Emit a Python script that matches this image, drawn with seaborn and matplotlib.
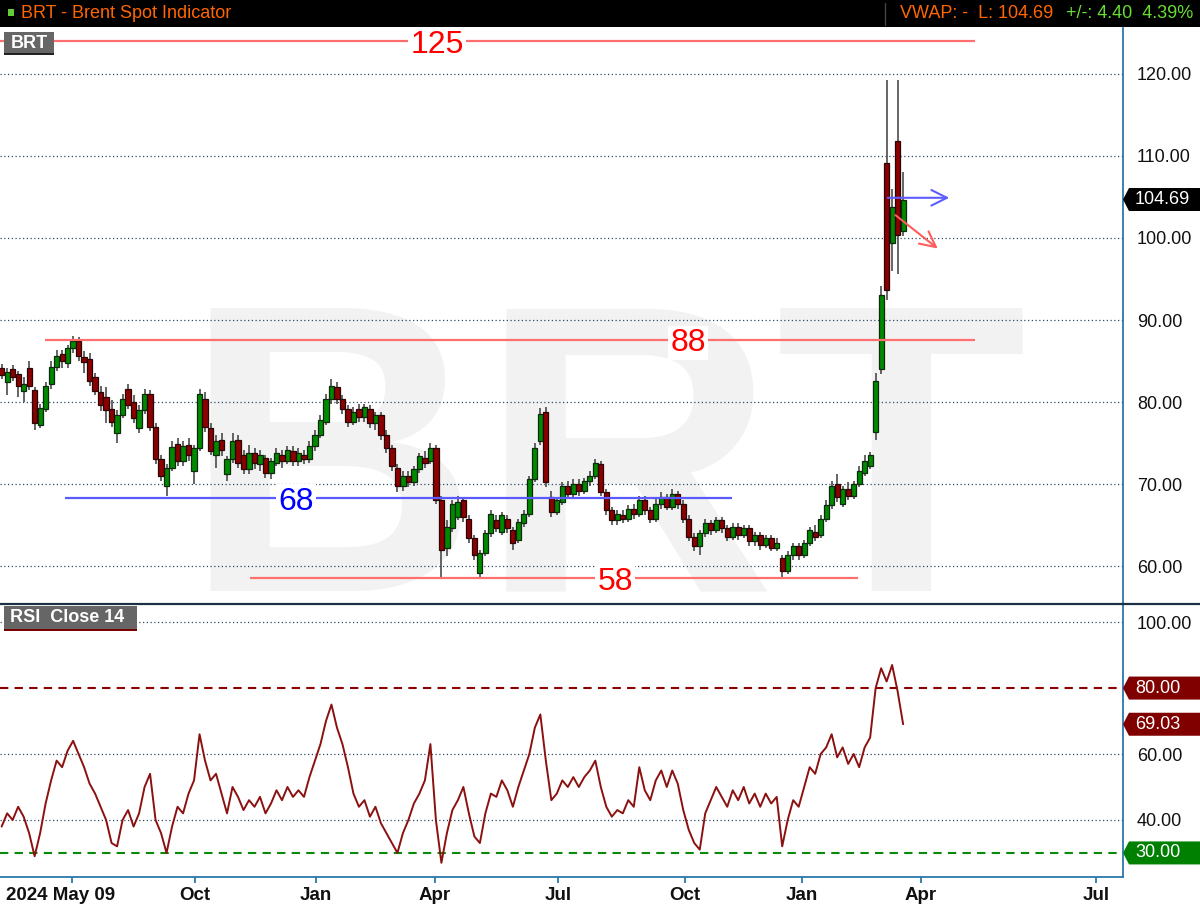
import numpy as np
import seaborn as sns
import matplotlib
matplotlib.use("Agg")
import matplotlib.pyplot as plt
from matplotlib.patches import Rectangle, Polygon
from matplotlib.transforms import ScaledTranslation

# ---------------- data ----------------
opens = [84.2, 82.5, 84.0, 83.4, 81.3, 84.2, 81.5, 77.2, 79.2, 82.2,
         84.3, 85.8, 84.8, 86.6, 87.4, 85.5, 85.3, 83.0, 81.2, 80.6,
         79.2, 76.2, 78.4, 81.6, 80.0, 76.8, 79.0, 81.0, 77.0, 73.0,
         69.8, 72.0, 74.9, 72.8, 74.8, 71.6, 74.4, 80.4, 76.8, 73.6,
         75.4, 71.2, 73.0, 75.4, 73.6, 71.8, 73.8, 72.4, 73.2, 71.4,
         72.6, 73.6, 72.8, 74.0, 72.8, 73.6, 73.0, 74.6, 76.0, 77.6,
         80.4, 81.8, 80.4, 79.2, 77.6, 79.2, 78.2, 79.2, 77.4, 78.4,
         76.0, 74.4, 72.0, 69.8, 71.0, 70.2, 71.8, 73.2, 72.8, 74.4,
         68.0, 62.2, 64.6, 66.0, 68.0, 65.8, 63.4, 59.2, 61.6, 64.0,
         65.6, 64.2, 65.8, 64.4, 63.2, 65.2, 66.4, 70.6, 75.2, 78.8,
         68.4, 66.6, 67.8, 69.8, 68.8, 70.0, 69.2, 70.4, 71.0, 72.4,
         69.0, 66.8, 65.6, 66.2, 65.8, 67.0, 66.4, 68.0, 66.8, 65.8,
         67.6, 68.4, 67.2, 68.8, 67.6, 65.8, 63.6, 62.4, 64.0, 65.2,
         64.4, 65.6, 64.6, 63.6, 64.8, 63.8, 64.6, 63.0, 63.8, 62.6,
         63.4, 62.2, 61.0, 59.4, 61.4, 62.4, 61.4, 62.8, 64.2, 63.8,
         65.8, 67.4, 70.0, 67.6, 69.4, 68.6, 70.0, 71.4, 72.2, 76.4,
         84.0, 109.2, 99.4, 111.8, 100.8]
highs = [84.6, 84.2, 84.5, 83.8, 83.0, 85.0, 81.8, 79.8, 82.5, 85.0,
         86.3, 86.4, 87.0, 88.0, 87.9, 86.2, 86.0, 83.5, 82.0, 81.8,
         80.2, 79.0, 81.0, 82.2, 80.8, 79.6, 81.6, 81.5, 77.4, 73.5,
         72.4, 75.2, 75.6, 75.3, 75.6, 74.8, 81.6, 81.2, 77.4, 76.0,
         76.2, 73.4, 76.2, 76.0, 74.2, 74.8, 74.4, 74.2, 73.6, 73.2,
         74.4, 74.2, 74.6, 74.6, 74.4, 74.2, 75.2, 76.6, 78.4, 81.0,
         82.8, 82.4, 80.8, 79.6, 79.4, 79.8, 79.8, 79.6, 78.8, 78.8,
         76.6, 74.8, 72.4, 71.6, 71.6, 72.2, 73.8, 74.0, 75.0, 74.8,
         68.6, 65.6, 68.0, 68.6, 68.4, 66.2, 63.8, 62.0, 64.4, 66.8,
         66.2, 66.6, 66.2, 64.8, 65.8, 66.8, 71.0, 75.0, 79.3, 79.4,
         69.2, 68.4, 70.2, 70.4, 70.6, 70.6, 70.8, 71.6, 73.0, 72.8,
         69.4, 67.2, 66.8, 66.8, 67.4, 67.6, 68.6, 68.6, 67.2, 68.2,
         69.0, 68.8, 69.4, 69.2, 68.0, 66.2, 64.0, 64.4, 65.8, 65.6,
         66.0, 66.0, 65.0, 65.2, 65.2, 65.0, 65.0, 64.2, 64.2, 63.8,
         63.8, 63.4, 61.4, 61.8, 62.8, 62.8, 63.2, 64.8, 65.0, 66.2,
         68.0, 70.4, 71.2, 69.8, 70.2, 70.4, 72.2, 73.6, 73.9, 83.6,
         94.2, 119.3, 106.0, 119.3, 108.0]
lows = [82.8, 80.8, 82.6, 80.6, 80.0, 81.5, 76.6, 76.8, 78.8, 81.6,
        83.8, 84.2, 84.2, 86.0, 85.0, 83.6, 82.0, 80.8, 78.9, 77.5,
        76.9, 75.0, 78.0, 79.2, 77.5, 76.2, 78.6, 76.5, 72.5, 70.4,
        68.6, 71.6, 72.2, 72.2, 72.8, 70.0, 74.0, 76.4, 73.6, 72.0,
        73.4, 70.4, 72.6, 72.0, 71.2, 71.2, 71.8, 71.6, 70.8, 70.6,
        72.2, 72.0, 72.4, 72.2, 72.2, 72.4, 72.6, 74.0, 75.6, 77.2,
        79.8, 79.8, 78.6, 77.0, 77.2, 77.6, 77.6, 76.8, 76.6, 75.4,
        73.8, 71.6, 69.0, 69.2, 69.6, 69.8, 71.4, 72.0, 72.4, 67.6,
        58.4, 61.2, 64.2, 65.6, 65.4, 62.8, 60.8, 58.6, 61.2, 63.6,
        64.2, 63.8, 64.0, 62.0, 62.8, 64.8, 66.0, 70.2, 74.8, 69.6,
        66.0, 66.2, 67.4, 68.2, 68.4, 68.6, 68.8, 69.8, 70.6, 68.6,
        66.2, 65.0, 65.0, 65.2, 65.4, 65.8, 66.0, 66.2, 65.2, 65.4,
        67.0, 66.8, 66.8, 67.0, 65.2, 63.0, 61.8, 61.4, 63.6, 63.8,
        64.0, 64.0, 63.0, 63.2, 63.2, 63.4, 62.4, 62.4, 62.0, 62.2,
        61.8, 61.8, 58.7, 59.0, 60.8, 60.8, 61.0, 62.4, 63.0, 63.4,
        65.4, 67.0, 67.8, 67.2, 68.0, 68.2, 69.6, 71.0, 71.8, 75.4,
        83.4, 92.4, 96.0, 95.6, 100.2]
closes = [83.3, 83.7, 83.0, 82.0, 82.2, 82.0, 77.4, 79.3, 82.0, 84.3,
          85.6, 85.0, 86.6, 87.5, 85.6, 84.9, 82.6, 81.4, 79.6, 79.0,
          77.6, 78.4, 80.4, 79.6, 78.0, 79.0, 81.0, 77.0, 73.0, 71.0,
          72.0, 74.5, 72.8, 74.6, 73.6, 74.4, 81.0, 77.0, 74.0, 75.2,
          74.2, 73.0, 75.2, 72.6, 71.8, 73.8, 72.6, 73.6, 71.4, 72.8,
          73.8, 72.8, 74.2, 72.8, 73.8, 73.0, 74.6, 76.0, 77.8, 80.4,
          82.0, 80.4, 79.2, 77.6, 78.8, 78.2, 79.4, 77.4, 78.4, 76.0,
          74.4, 72.2, 69.8, 71.0, 70.2, 71.8, 73.4, 72.6, 74.4, 68.0,
          62.0, 64.8, 67.6, 67.8, 66.0, 63.4, 61.4, 61.6, 64.0, 66.4,
          64.6, 66.2, 64.6, 62.8, 65.4, 66.4, 70.6, 74.4, 78.6, 70.2,
          66.6, 68.0, 69.8, 68.8, 70.0, 69.2, 70.4, 71.0, 72.6, 69.0,
          66.8, 65.6, 66.4, 65.8, 67.0, 66.4, 68.0, 66.8, 65.8, 67.6,
          68.4, 67.2, 68.8, 67.6, 65.8, 63.6, 62.4, 64.0, 65.2, 64.4,
          65.6, 64.6, 63.6, 64.8, 63.8, 64.6, 63.0, 63.8, 62.6, 63.4,
          62.2, 62.8, 59.4, 61.4, 62.4, 61.4, 62.8, 64.4, 63.6, 65.8,
          67.4, 69.8, 68.4, 69.4, 68.6, 70.0, 71.6, 72.8, 73.6, 82.6,
          93.0, 93.6, 103.8, 100.4, 104.69]
rsi = [38, 42, 40, 44, 41, 36, 29, 36, 45, 52,
       58, 56, 61, 64, 60, 56, 51, 48, 44, 40,
       33, 32, 40, 43, 38, 42, 50, 54, 40, 36,
       30, 38, 44, 42, 48, 52, 66, 58, 52, 54,
       48, 42, 50, 47, 43, 46, 44, 47, 42, 45,
       49, 46, 50, 47, 49, 47, 53, 58, 63, 70,
       75, 68, 63, 56, 48, 44, 46, 41, 44, 39,
       36, 33, 30, 36, 40, 45, 48, 52, 63, 40,
       27, 36, 43, 46, 50, 42, 35, 33, 42, 48,
       47, 52, 49, 44, 50, 55, 60, 68, 72, 58,
       46, 48, 52, 50, 53, 50, 53, 55, 58, 50,
       44, 41, 43, 42, 46, 44, 56, 49, 46, 52,
       55, 50, 55, 51, 43, 37, 33, 31, 42, 46,
       50, 47, 44, 49, 46, 50, 45, 48, 44, 48,
       45, 47, 32, 40, 46, 44, 50, 56, 54, 60,
       62, 66, 59, 62, 57, 60, 56, 62, 65, 80,
       86, 82, 87, 79, 69.03]

tick_pos = [12.8, 35.2, 57.2, 78.8, 101.2, 124.3, 145.6, 167.2, 199.1]
tick_labels = ["2024 May 09", "Oct", "Jan", "Apr", "Jul", "Oct", "Jan", "Apr", "Jul"]
price_ticks = [60, 70, 80, 90, 100, 110, 120]
rsi_ticks = [40, 60, 100]
level_labels = ["125", "88", "68", "58"]
level_values = [124.0, 87.6, 68.3, 58.5]
last_price = 104.69

# ---------------- style ----------------
sns.set_theme(style="white")
plt.rcParams['font.family'] = ['Liberation Sans', 'DejaVu Sans']

W, H = 1200, 906
fig = plt.figure(figsize=(12, 9.06), dpi=100)
fig.patch.set_facecolor('white')


def fx(px):
    return px / W


def fy(py):
    return 1 - py / H


AX_R = 1123
ax = fig.add_axes([0, fy(603), fx(AX_R), (603 - 28) / H])
ax2 = fig.add_axes([0, fy(877), fx(AX_R), (877 - 604) / H], sharex=ax)

idx = np.arange(len(closes))
o = np.array(opens)
c = np.array(closes)
hi = np.array(highs)
lo = np.array(lows)
up = c >= o

XMIN, XMAX = -0.3, 204
ax.set_xlim(XMIN, XMAX)
ax.set_ylim(55.5, 125.6)
ax2.set_ylim(22.7, 105.5)

GRID_C = '#2e4a66'
for y in price_ticks:
    ax.axhline(y, color=GRID_C, ls=(0, (1, 2)), lw=0.9, zorder=1)

# watermark
ax.text(605 / AX_R, 0.0226, "BRT", transform=ax.transAxes, fontsize=296,
        fontweight='bold', color='#f2f2f2', ha='center', va='baseline', zorder=0)

# candles
ax.vlines(idx, lo, hi, color='#3c3c3c', lw=1.1, zorder=2)
ax.bar(idx[up], (c - o)[up], bottom=o[up], width=0.95, color='#008a00',
       edgecolor='#0d2a0d', linewidth=0.9, zorder=3)
ax.bar(idx[~up], (o - c)[~up], bottom=c[~up], width=0.95, color='#8b0000',
       edgecolor='#2a0505', linewidth=0.9, zorder=3)

# level lines and labels
line_specs = [(-0.3, 177.1, '#ff6f6f', 79.2, '#ff0000'),
              (7.9, 177.1, '#ff6f6f', 124.9, '#ff0000'),
              (11.5, 132.9, '#5a5aff', 53.5, '#0000ff'),
              (45.2, 155.8, '#ff6f6f', 111.6, '#ff0000')]
for lab, val, (x0, x1, lc, tx, tc) in zip(level_labels, level_values, line_specs):
    ax.hlines(val, x0, x1, color=lc, lw=1.6, zorder=4)
    ax.text(tx, val, lab, color=tc, fontsize=23, ha='center', va='center_baseline', zorder=5,
            bbox=dict(facecolor='white', edgecolor='none', pad=1.5))

# arrows
ax.annotate('', xy=(172.9, 104.9), xytext=(160.7, 104.9),
            arrowprops=dict(arrowstyle='->', color='#5c5cff', lw=1.5, mutation_scale=28), zorder=6)
ax.annotate('', xy=(170.7, 98.5), xytext=(162.2, 103.0),
            arrowprops=dict(arrowstyle='->', color='#ff5c5c', lw=1.5, mutation_scale=28), zorder=6)

# price axis
ax.set_yticks(price_ticks)
ax.set_yticklabels([f"{v:.2f}" for v in price_ticks])
ax.yaxis.tick_right()
ax.tick_params(axis='y', length=0, pad=10, labelsize=13, labelcolor='#111111')
ax.tick_params(axis='x', length=0, labelbottom=False)
for s in ['left', 'top', 'bottom']:
    ax.spines[s].set_visible(False)
ax.spines['right'].set_color('#2a78ad')
ax.spines['right'].set_linewidth(1.3)

# RSI
for y in rsi_ticks:
    ax2.axhline(y, color=GRID_C, ls=(0, (1, 2)), lw=0.9, zorder=1)
ax2.axhline(80, color='#8b0000', ls=(0, (4, 3)), lw=1.5, zorder=2)
ax2.axhline(30, color='#0a8a0a', ls=(0, (4, 3)), lw=1.5, zorder=2)
sns.lineplot(x=idx, y=rsi, ax=ax2, color='#8b1010', lw=1.4, zorder=3)
ax2.set_xlim(XMIN, XMAX)
ax2.set_ylim(22.7, 105.5)
ax2.set_ylabel('')
ax2.set_yticks(rsi_ticks)
ax2.set_yticklabels([f"{v:.2f}" for v in rsi_ticks])
ax2.yaxis.tick_right()
ax2.tick_params(axis='y', length=0, pad=10, labelsize=13, labelcolor='#111111')
ax2.set_xticks(tick_pos)
ax2.set_xticklabels(tick_labels, fontweight='bold', fontsize=13.5, color='#111111')
ax2.tick_params(axis='x', bottom=True, length=4, width=1.3, color='#2a78ad', pad=3, direction='out')
ax2.spines['left'].set_visible(False)
ax2.spines['right'].set_color('#2a78ad')
ax2.spines['right'].set_linewidth(1.3)
ax2.spines['bottom'].set_color('#2a78ad')
ax2.spines['bottom'].set_linewidth(1.3)
ax2.spines['top'].set_color('#1c3148')
ax2.spines['top'].set_linewidth(1.6)
lbl0 = ax2.get_xticklabels()[0]
lbl0.set_transform(lbl0.get_transform() + ScaledTranslation(-11 / 100, 0, fig.dpi_scale_trans))

# separator extension into label area
fig.add_artist(plt.Line2D([fx(AX_R), 1], [fy(603.5), fy(603.5)], transform=fig.transFigure,
                          color='#1c3148', lw=1.6))

# header bar
fig.add_artist(Rectangle((0, fy(27)), 1, 27 / H, transform=fig.transFigure,
                         facecolor='black', edgecolor='none', zorder=1))
fig.add_artist(Rectangle((fx(8), fy(16)), 6 / W, 7 / H, transform=fig.transFigure,
                         facecolor='#66cc33', edgecolor='none', zorder=2))
fig.add_artist(plt.Line2D([fx(885), fx(885)], [fy(3), fy(25)], transform=fig.transFigure,
                          color='#444444', lw=1, zorder=2))
fig.text(fx(21), fy(14), "BRT - Brent Spot Indicator", color='#ff6600', fontsize=13,
         va='center', ha='left', zorder=3)
fig.text(fx(1193), fy(14), "+/-: 4.40  4.39%", color='#66dd33', fontsize=13,
         va='center', ha='right', zorder=3)
fig.text(fx(1053), fy(14), "VWAP: -  L: 104.69", color='#ff6600', fontsize=13,
         va='center', ha='right', zorder=3)

# panel title boxes
fig.add_artist(Rectangle((fx(4), fy(54)), 50 / W, 22 / H, transform=fig.transFigure,
                         facecolor='#666666', edgecolor='none', zorder=3))
fig.add_artist(Rectangle((fx(4), fy(55)), 50 / W, 2 / H, transform=fig.transFigure,
                         facecolor='#222222', edgecolor='none', zorder=3))
fig.text(fx(29), fy(43), "BRT", color='white', fontsize=13, fontweight='bold',
         ha='center', va='center', zorder=4)
fig.add_artist(Rectangle((fx(4), fy(629)), 133 / W, 23 / H, transform=fig.transFigure,
                         facecolor='#666666', edgecolor='none', zorder=3))
fig.add_artist(Rectangle((fx(4), fy(631)), 133 / W, 2 / H, transform=fig.transFigure,
                         facecolor='#7a0000', edgecolor='none', zorder=3))
fig.text(fx(10), fy(618), "RSI  Close 14", color='white', fontsize=13, fontweight='bold',
         ha='left', va='center', zorder=4)


# value tags on the right axis
def tag(axis, value, text, color):
    yd = axis.transData.transform((0, value))[1]
    xa = AX_R
    pts = [(xa, yd), (xa + 6, yd + 11.5), (W, yd + 11.5), (W, yd - 11.5), (xa + 6, yd - 11.5)]
    pts = [(px / W, py / H) for px, py in pts]
    fig.add_artist(Polygon(pts, closed=True, transform=fig.transFigure,
                           facecolor=color, edgecolor='none', zorder=5))
    fig.text(fx(1135), yd / H, text, color='white', fontsize=13, ha='left',
             va='center', zorder=6)


tag(ax, last_price, f"{last_price:.2f}", '#000000')
tag(ax2, 80, "80.00", '#800000')
tag(ax2, rsi[-1], f"{rsi[-1]:.2f}", '#800000')
tag(ax2, 30, "30.00", '#008000')

fig.savefig('out.png', dpi=100)
